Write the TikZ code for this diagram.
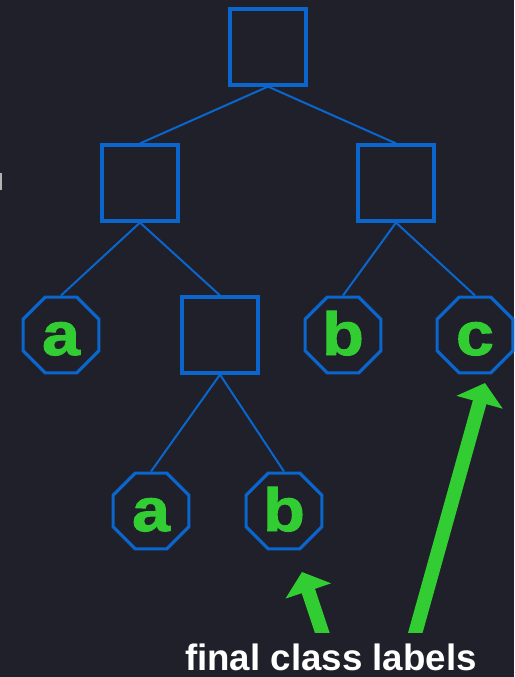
\documentclass[tikz,border=0pt]{standalone}
\usepackage{fontspec}
\setmainfont{Liberation Sans}
\newfontfamily\leaffont{Liberation Sans}[FakeStretch=1.12,FakeBold=1.6]
\usetikzlibrary{shapes.geometric,arrows.meta}
\definecolor{bg}{RGB}{31,32,41}
\definecolor{nodeblue}{RGB}{10,102,204}
\definecolor{leafgreen}{RGB}{50,205,50}
\tikzset{
  box/.style={draw=nodeblue,line width=3.2pt,minimum size=76pt,inner sep=0pt},
  leaf/.style={regular polygon,regular polygon sides=8,draw=nodeblue,line width=3.2pt,
    minimum size=82pt,inner sep=0pt,text=leafgreen,
    font=\leaffont\bfseries\fontsize{61}{61}\selectfont,text height=40pt,text depth=0pt},
  edge/.style={draw=nodeblue,line width=2pt},
  callout/.style={draw=leafgreen,line width=14pt,-{Triangle[width=47pt,length=20pt]}}
}
\begin{document}
\begin{tikzpicture}[x=1pt,y=-1pt]
\fill[bg] (0,0) rectangle (514,677);
\useasboundingbox (0,0) rectangle (514,677);
\fill[gray!60] (0,173) rectangle (2,190);
\node[box] (root) at (268,47) {};
\node[box] (L) at (140,183) {};
\node[box] (R) at (396,183) {};
\node[leaf] (a1) at (61,335) {a};
\node[box] (M) at (220,335) {};
\node[leaf] (b1) at (343,335) {b};
\node[leaf] (c1) at (475,335) {c};
\node[leaf] (a2) at (151,511) {a};
\node[leaf] (b2) at (284,511) {b};
\draw[edge] (root.south) -- (L.north);
\draw[edge] (root.south) -- (R.north);
\draw[edge] (L.south) -- (a1.north);
\draw[edge] (L.south) -- (M.north);
\draw[edge] (R.south) -- (b1.north);
\draw[edge] (R.south) -- (c1.north);
\draw[edge] (M.south) -- (a2.north);
\draw[edge] (M.south) -- (b2.north);
\node[font=\bfseries\fontsize{36.7}{40}\selectfont,text=white,anchor=base,inner sep=0pt] (caption) at (331,670) {final class labels};
\coordinate (s1) at (324.7,640);
\coordinate (t1) at (302,572);
\coordinate (s2) at (413.3,640);
\coordinate (t2) at (485,383);
\begin{scope}
\clip (0,0) rectangle (514,632);
\draw[callout] (s1) -- (t1);
\draw[callout] (s2) -- (t2);
\end{scope}
\end{tikzpicture}
\end{document}
